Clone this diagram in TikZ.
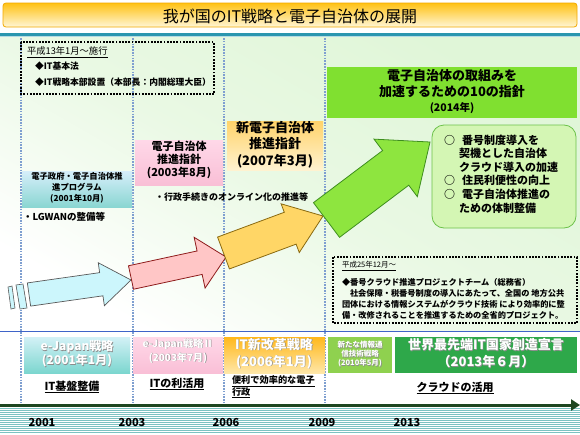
\documentclass[tikz,border=0pt]{standalone}
\usepackage{fontspec}
\setmainfont{Noto Sans CJK JP}
\usetikzlibrary{calc,arrows.meta}
\newcommand{\fs}[2]{\fontsize{#1}{#2}\selectfont}
\definecolor{tealline}{HTML}{2A96AF}
\definecolor{bggreen}{HTML}{E0F6D8}
\definecolor{blueline}{HTML}{3F64C8}
\definecolor{vdot}{HTML}{7F9FD0}
\definecolor{tlgreen}{HTML}{1E4620}
\definecolor{stripe}{HTML}{7CC2C2}
\definecolor{titletop}{HTML}{FFC214}
\definecolor{titlebot}{HTML}{FFF6D6}
\definecolor{titleedge}{HTML}{F2A900}
\definecolor{progtop}{HTML}{D6EEFA}
\definecolor{progbot}{HTML}{8AD6D2}
\definecolor{pinktop}{HTML}{FFD8E8}
\definecolor{pinkbot}{HTML}{F9BFD6}
\definecolor{oratop}{HTML}{FFD36A}
\definecolor{orabot}{HTML}{FFF2D0}
\definecolor{tengreen}{HTML}{80E030}
\definecolor{rbfill}{HTML}{D4F6B4}
\definecolor{rbedge}{HTML}{6CC24A}
\definecolor{ejtop}{HTML}{D3F1F6}
\definecolor{ejbot}{HTML}{7CD6CF}
\definecolor{itrtop}{HTML}{FFB81C}
\definecolor{itrbot}{HTML}{FFE7A8}
\definecolor{newgreen}{HTML}{8FD14F}
\definecolor{decgreen}{HTML}{2EA84A}
\definecolor{abfill}{HTML}{CCF6FC}
\definecolor{apfill}{HTML}{FFC6C6}
\definecolor{apedge}{HTML}{8E1B1B}
\definecolor{aofill}{HTML}{FFD666}
\definecolor{aoedge}{HTML}{8A6A10}
\definecolor{agfill}{HTML}{8EE53F}
\definecolor{agedge}{HTML}{3E8E1E}
\newcommand{\blockarr}[7]{%
  \coordinate (#1-t) at #3;
  \coordinate (#1-p) at #4;
  \coordinate (#1-h) at ($(#1-p)!#7!(#1-t)$);
  \draw[#2] ($(#1-t)!#5!90:(#1-p)$) -- ($(#1-h)!#5!90:(#1-p)$) -- ($(#1-h)!#6!90:(#1-p)$) -- (#1-p) -- ($(#1-h)!#6!-90:(#1-p)$) -- ($(#1-h)!#5!-90:(#1-p)$) -- ($(#1-t)!#5!-90:(#1-p)$) -- cycle;
}
\newcommand{\glow}[4]{%
  \node[text=black!45, align=center, font=#3] at ($#2+(0.6,0.6)$) {#4};
  \node[text=white, align=center, font=#3] (#1) at #2 {#4};
}
\tikzset{
  vdots/.style={vdot, line width=1.6pt, dash pattern=on 1.6pt off 1.2pt},
  blackdots/.style={black, line width=2pt, dash pattern=on 1.8pt off 1.4pt},
  arrblue/.style={fill=abfill, draw=black!65, line width=0.7pt},
  arrpink/.style={fill=apfill, draw=apedge, line width=0.8pt},
  arrora/.style={fill=aofill, draw=aoedge, line width=0.8pt},
  arrgreen/.style={fill=agfill, draw=agedge, line width=0.8pt},
}
\begin{document}
\begin{tikzpicture}[x=1pt,y=-1pt, every node/.style={inner sep=0pt, outer sep=0pt}]
\useasboundingbox (0,0) rectangle (580,434);
\fill[white] (0,0) rectangle (580,434);
% title
\node[draw=titleedge, line width=0.8pt, rounded corners=3pt, top color=titletop, bottom color=titlebot,
  minimum width=574pt, minimum height=24pt, anchor=north west] (title) at (3,3) {};
\node[font=\fs{16}{18}] (titletxt) at (290,16) {我が国のIT戦略と電子自治体の展開};
% teal line and background
\fill[tealline] (0,32.5) rectangle (580,36);
\fill[tealline!35] (0,36) rectangle (580,37.5);
\shade[top color=bggreen, bottom color=white, middle color=bggreen!70, shading angle=-30] (0,37.5) rectangle (580,331);
\fill[white] (0,331) rectangle (580,404);
\draw[blueline, line width=1pt] (0,331) -- (580,331);
% vertical dotted lines
\foreach \x in {21,133,224,325} \draw[vdots] (\x,38) -- (\x,403);
% timeline band
\fill[white] (0,406) rectangle (580,434);
\foreach \y in {408.5,410.5,...,433.5} \draw[stripe, line width=1.1pt] (0,\y) -- (580,\y);
\coordinate (tlstart) at (0,405);
\coordinate (tlend) at (580,405);
\draw[tlgreen, line width=3pt, -{Triangle[length=9pt,width=11pt]}] (tlstart) -- (tlend);
\foreach \x/\yr in {42/2001,132/2003,226/2006,322/2009,407/2013}
  \node[font=\fs{11}{12}\bfseries] (yr\yr) at (\x,422) {\yr};
% dotted box 1
\draw[blackdots] (21,42) rectangle (214,94);
\node[anchor=west, font=\fs{9.3}{10}] (law0) at (27,52) {\underline{平成13年1月～施行}};
\node[anchor=west, font=\fs{8.8}{10}\bfseries] (law1) at (35,66) {◆IT基本法};
\node[anchor=west, font=\fs{8.8}{10}\bfseries] (law2) at (35,82) {◆IT戦略本部設置（本部長：内閣総理大臣）};
% program box
\node[top color=progtop, bottom color=progbot, minimum width=110pt, minimum height=36pt, anchor=north west] (prog) at (22,171) {};
\node[align=center, font=\fs{8.3}{11}\bfseries] (progtxt) at (77,188) {電子政府・電子自治体推\\進プログラム\\(2001年10月)};
\node[anchor=west, font=\fs{9.5}{11}\bfseries] (lgwan) at (23,217) {・LGWANの整備等};
% pink guideline box
\node[top color=pinktop, bottom color=pinkbot, minimum width=88pt, minimum height=45pt, anchor=north west] (pinkbox) at (135,140) {};
\node[align=center, font=\fs{11}{13}\bfseries] (pinktxt) at (179,160) {電子自治体\\推進指針\\(2003年8月)};
\node[anchor=west, font=\fs{9}{10}\bfseries] (online) at (155,197) {・行政手続きのオンライン化の推進等};
% new guideline box
\node[top color=oratop, bottom color=orabot, minimum width=96pt, minimum height=49pt, anchor=north west] (orabox) at (227,121) {};
\node[align=center, font=\fs{13}{16.5}\bfseries] (oratxt) at (275,144.5) {新電子自治体\\推進指針\\(2007年3月)};
% 10 guidelines box
\node[fill=tengreen, minimum width=250pt, minimum height=51pt, anchor=north west] (tenbox) at (327,67) {};
\node[align=center, font=\fs{13}{16}\bfseries] (tentxt) at (452,84) {電子自治体の取組みを\\加速するための10の指針};
\node[font=\fs{10.5}{12}\bfseries] (tenyr) at (452,108) {(2014年)};
% rounded box
\node[fill=rbfill, draw=rbedge, line width=0.8pt, rounded corners=12pt, minimum width=144pt, minimum height=103pt, anchor=north west] (rbox) at (432,125) {};
\node[anchor=west, align=left, font=\fs{11}{13.6}\bfseries] (rtxt) at (444,174) {○\hspace{7pt}番号制度導入を\\\hspace{15pt}契機とした自治体\\\hspace{15pt}クラウド導入の加速\\○\hspace{7pt}住民利便性の向上\\○\hspace{7pt}電子自治体推進の\\\hspace{15pt}ための体制整備};
% arrows
\fill[abfill, draw=black!65, line width=0.6pt] (8,287) -- (12,286) -- (15,308) -- (11,309) -- cycle;
\fill[abfill, draw=black!65, line width=0.6pt] (16,285) -- (23,284) -- (27,308) -- (20,309) -- cycle;
\blockarr{ab}{arrblue}{(29,294.5)}{(131,280)}{11.7pt}{21.7pt}{30pt}
\blockarr{ap}{arrpink}{(131,277.5)}{(226,257)}{12pt}{26pt}{27pt}
\blockarr{ao}{arrora}{(223.5,253)}{(323,216)}{17pt}{26pt}{35pt}
\blockarr{ag}{arrgreen}{(326.5,220)}{(430,142)}{21.7pt}{36pt}{43pt}
% dotted box 2
\draw[blackdots] (333,257) rectangle (577,323);
\node[anchor=west, font=\fs{7.5}{9}] (pt0) at (342,266) {\underline{平成25年12月～}};
\node[anchor=west, align=left, font=\fs{8.2}{11}\bfseries] (pttxt) at (342,298.5) {◆番号クラウド推進プロジェクトチーム（総務省）\\\hspace{8pt}社会保障・税番号制度の導入にあたって、全国の 地方公共\\団体における情報システムがクラウド技術 により効率的に整\\備・改修されることを推進するための全省的プロジェクト。};
% lower strategy boxes
\node[top color=ejtop, bottom color=ejbot, minimum width=106pt, minimum height=36pt, anchor=north west] (ejbox) at (24,337) {};
\glow{ejtxt}{(77,354)}{\fs{12}{14}\bfseries}{e-Japan戦略\\(2001年1月)}
\node[top color=pinktop, bottom color=pinkbot, minimum width=90pt, minimum height=36pt, anchor=north west] (ej2box) at (133,337) {};
\glow{ej2txt}{(178,351)}{\fs{10}{14}\bfseries}{e-Japan戦略Ⅱ\\(2003年7月)}
\node[top color=itrtop, bottom color=itrbot, minimum width=101pt, minimum height=36pt, anchor=north west] (itrbox) at (224,337) {};
\glow{itrtxt}{(274,353.5)}{\fs{13}{17}\bfseries}{IT新改革戦略\\(2006年1月)}
\node[fill=newgreen, minimum width=64pt, minimum height=36pt, anchor=north west] (newbox) at (328,337) {};
\glow{newtxt}{(360,354)}{\fs{7.5}{9}\bfseries}{新たな情報通\\信技術戦略\\(2010年5月)}
\node[fill=decgreen, minimum width=182pt, minimum height=36pt, anchor=north west] (decbox) at (395,337) {};
\glow{dectxt}{(486,353.5)}{\fs{13}{17}\bfseries}{世界最先端IT国家創造宣言\\（2013年６月）}
% themes
\node[font=\fs{11}{12}\bfseries] (th1) at (72,387) {\underline{IT基盤整備}};
\node[font=\fs{11}{12}\bfseries] (th2) at (177,384) {\underline{ITの利活用}};
\node[anchor=west, align=left, font=\fs{9.2}{10.5}\bfseries] (th3) at (232,387) {\underline{便利で効率的な電子}\\\underline{行政}};
\node[font=\fs{11}{12}\bfseries] (th4) at (455,388) {\underline{クラウドの活用}};
\end{tikzpicture}
\end{document}
